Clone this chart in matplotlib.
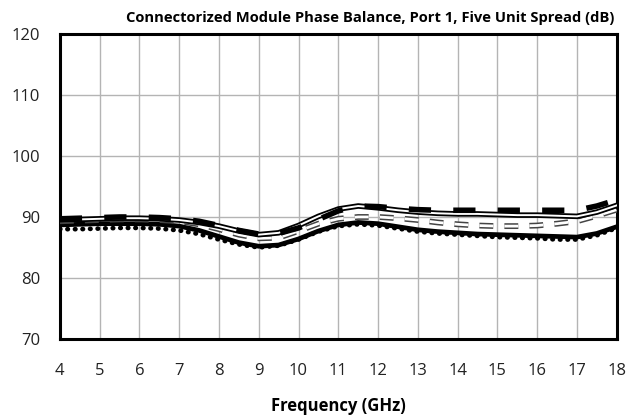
import matplotlib.pyplot as plt
import matplotlib.patheffects as pe

plt.rcParams['font.family'] = ['Open Sans', 'DejaVu Sans']

freq = [4, 4.5, 5, 5.5, 6, 6.5, 7, 7.5, 8, 8.5, 9, 9.5, 10, 10.5, 11, 11.5,
        12, 12.5, 13, 13.5, 14, 14.5, 15, 15.5, 16, 16.5, 17, 17.5, 18]

unit_a = [89.7, 89.8, 89.9, 90.0, 90.0, 89.9, 89.7, 89.3, 88.6, 87.8, 87.2, 87.3, 88.2, 89.6, 91.0,
          91.8, 91.7, 91.4, 91.2, 91.1, 91.1, 91.1, 91.1, 91.1, 91.1, 91.1, 91.1, 91.8, 92.8]
unit_b = [89.5, 89.6, 89.7, 89.8, 89.8, 89.7, 89.5, 89.1, 88.5, 87.7, 87.1, 87.4, 88.6, 90.1, 91.3,
          91.8, 91.5, 91.1, 90.8, 90.6, 90.5, 90.5, 90.4, 90.3, 90.3, 90.2, 90.1, 90.8, 91.9]
unit_c = [89.3, 89.4, 89.5, 89.6, 89.6, 89.5, 89.3, 88.8, 88.0, 87.1, 86.5, 86.6, 87.7, 88.9, 89.7,
          90.0, 90.0, 89.8, 89.5, 89.1, 88.8, 88.6, 88.5, 88.5, 88.6, 88.9, 89.3, 90.2, 91.2]
unit_d = [88.7, 88.8, 88.9, 88.9, 88.9, 88.8, 88.5, 87.8, 86.8, 85.8, 85.2, 85.4, 86.4, 87.7, 88.7,
          89.1, 88.9, 88.4, 87.9, 87.6, 87.4, 87.2, 87.1, 87.0, 86.9, 86.8, 86.7, 87.3, 88.4]
unit_e = [88.0, 88.0, 88.1, 88.2, 88.2, 88.1, 87.8, 87.2, 86.3, 85.5, 85.0, 85.3, 86.3, 87.6, 88.5,
          88.8, 88.6, 88.1, 87.6, 87.3, 87.1, 86.9, 86.7, 86.6, 86.5, 86.3, 86.3, 87.0, 88.2]

fig = plt.figure(figsize=(6.3, 4.2), dpi=100)
ax = fig.add_axes([0.095, 0.193, 0.884, 0.726])

# dotted unit
ax.plot(freq, unit_e, color='black', lw=3.4, linestyle=(0, (0.1, 1.5)),
        dash_capstyle='round', zorder=3)
# solid unit
ax.plot(freq, unit_d, color='black', lw=3.4, zorder=4)
# hollow dashed unit
ax.plot(freq, unit_c, color='white', lw=2.0, linestyle=(0, (5, 4)),
        path_effects=[pe.Stroke(linewidth=4.2, foreground='#444444'), pe.Normal()], zorder=5)
# double line unit
ax.plot(freq, unit_b, color='white', lw=1.4,
        path_effects=[pe.Stroke(linewidth=4.0, foreground='black'), pe.Normal()], zorder=6)
# thick dashed unit
ax.plot(freq, unit_a, color='black', lw=4.0, linestyle=(0, (4, 4)), zorder=7)

ax.set_xlim(4, 18)
ax.set_ylim(70, 120)
ax.set_xticks(range(4, 19))
ax.set_yticks(range(70, 121, 10))
ax.grid(True, color='#b4b4b4', lw=1.0)
ax.set_axisbelow(True)
ax.tick_params(length=0, labelsize=12, pad=17, colors='#222222')
ax.tick_params(axis='y', pad=14)
for s in ax.spines.values():
    s.set_linewidth(2.2)
    s.set_color('black')

ax.set_xlabel('Frequency (GHz)', fontsize=12, fontweight='bold', labelpad=13)
fig.text(0.587, 0.958, 'Connectorized Module Phase Balance, Port 1, Five Unit Spread (dB)',
         ha='center', va='center', fontsize=10.6, fontweight='bold')

fig.savefig('out.png', dpi=100)
